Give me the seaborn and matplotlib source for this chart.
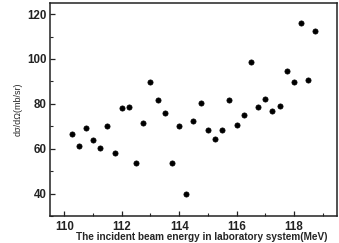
import numpy as np
import pandas as pd
from matplotlib import pyplot as plt
from matplotlib.ticker import MultipleLocator
import seaborn as sns

# beam energy (MeV) and differential cross section (mb/sr)
energy = [110.25, 110.5, 110.75, 111.0, 111.25, 111.5, 111.75, 112.0, 112.25, 112.5,
          112.75, 113.0, 113.25, 113.5, 113.75, 114.0, 114.25, 114.5, 114.75, 115.0,
          115.25, 115.5, 115.75, 116.0, 116.25, 116.5, 116.75, 117.0, 117.25, 117.5,
          117.75, 118.0, 118.25, 118.5, 118.75]
cross_section = [66.5, 61.2, 69.2, 63.8, 60.3, 70.0, 58.3, 78.1, 78.4, 53.6,
                 71.3, 89.9, 81.6, 76.1, 53.7, 70.0, 39.7, 72.2, 80.6, 68.5,
                 64.2, 68.5, 81.9, 70.7, 74.9, 98.7, 78.8, 82.0, 76.7, 78.9,
                 94.7, 89.8, 116.0, 90.8, 112.6]
x_ticks = [110, 112, 114, 116, 118]
y_ticks = [40, 60, 80, 100, 120]

sns.set_theme(style="ticks")
plt.rcParams['font.family'] = ['Liberation Sans', 'DejaVu Sans']

df = pd.DataFrame({'energy': energy, 'xs': cross_section})

fig = plt.figure(figsize=(3.39, 2.43), dpi=100)
ax = fig.add_axes([0.1475, 0.111, 0.8465, 0.877])

sns.scatterplot(data=df, x='energy', y='xs', ax=ax, color='black',
                marker='o', s=14, edgecolor='black', linewidth=0.5)

ax.set_xlim(109.5, 119.5)
ax.set_ylim(30, 125)
ax.set_xticks(x_ticks)
ax.set_yticks(y_ticks)
ax.xaxis.set_minor_locator(MultipleLocator(1))
ax.yaxis.set_minor_locator(MultipleLocator(10))
ax.tick_params(which='major', direction='in', length=3.5, width=0.9,
               labelsize=8.3, pad=2.5, colors='#222222')
ax.tick_params(axis='x', which='major', pad=3.5)
ax.tick_params(which='minor', direction='in', length=2, width=0.8)
for lbl in ax.get_xticklabels() + ax.get_yticklabels():
    lbl.set_fontweight('bold')
for sp in ax.spines.values():
    sp.set_linewidth(1.1)
    sp.set_color('#222222')

ax.set_xlabel('The incident beam energy in laboratory system(MeV)',
              fontsize=7.2, fontweight='bold')
ax.xaxis.set_label_coords(0.53, -0.074)
ax.set_ylabel('dσ/dΩ(mb/sr)', fontsize=6.5, labelpad=3)

fig.savefig('out.png', dpi=100)
